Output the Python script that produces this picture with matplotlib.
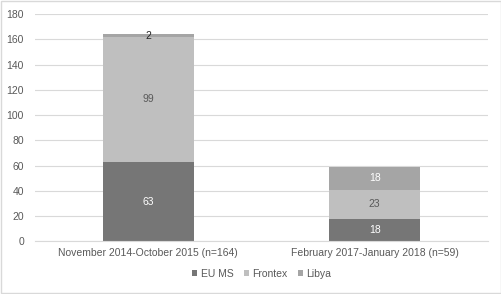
import numpy as np
import matplotlib.pyplot as plt

plt.rcParams['font.family'] = ['Liberation Sans', 'DejaVu Sans']

periods = ["November 2014-October 2015 (n=164)", "February 2017-January 2018 (n=59)"]
eu_ms = [63, 18]
frontex = [99, 23]
libya = [2, 18]

series = [("EU MS", eu_ms, "#767676", "white"),
          ("Frontex", frontex, "#bfbfbf", "#595959"),
          ("Libya", libya, "#a5a5a5", "white")]

fig = plt.figure(figsize=(5.02, 2.94), dpi=100)
ax = fig.add_axes([0.07, 0.179, 0.902, 0.773])

x = np.arange(len(periods))
bottom = np.zeros(len(periods))
for name, vals, col, tcol in series:
    bars = ax.bar(x, vals, 0.4, bottom=bottom, color=col, label=name, zorder=2)
    for i, b in enumerate(bars):
        v = vals[i]
        c = tcol
        if v < 5:
            c = "#262626"
        ax.text(b.get_x() + b.get_width() / 2, bottom[i] + v / 2, str(v),
                ha="center", va="center", fontsize=7.5, color=c, zorder=3)
    bottom += np.array(vals)

ax.set_xlim(-0.5, 1.5)
ax.set_ylim(0, 180)
ax.set_yticks(np.arange(0, 181, 20))
ax.set_xticks(x)
ax.set_xticklabels(periods)
ax.yaxis.grid(True, color="#d9d9d9", lw=0.8, zorder=0)
for s in ["top", "right", "left"]:
    ax.spines[s].set_visible(False)
ax.spines["bottom"].set_color("#d9d9d9")
ax.tick_params(axis="both", length=0, labelsize=7.5, colors="#595959")
ax.tick_params(axis="y", pad=8)
ax.tick_params(axis="x", pad=5)

ax.legend(loc="upper center", bbox_to_anchor=(0.5, -0.08), ncol=3, frameon=False,
          fontsize=7.5, labelcolor="#595959", handlelength=0.5, handleheight=0.5,
          handletextpad=0.3, columnspacing=1.0)

fig.patches.append(plt.Rectangle((0.002, 0.003), 0.996, 0.994, transform=fig.transFigure,
                                 fill=False, edgecolor="#d9d9d9", lw=1))
fig.savefig("out.png", dpi=100)
